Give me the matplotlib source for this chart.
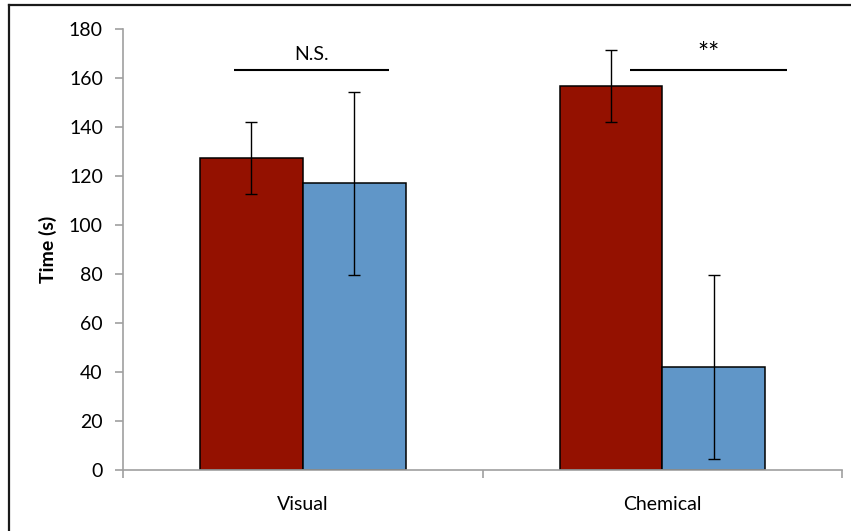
"""Grouped bar chart of response time for visual and chemical cues
"""
import numpy as np
import matplotlib
matplotlib.use("Agg")
import matplotlib.pyplot as plt
from matplotlib.lines import Line2D

# -------
# Data
# -------
categories = ["Visual", "Chemical"]
red_means = [127.3, 156.6]
red_errors = [14.6, 14.7]
blue_means = [116.9, 42.0]
blue_errors = [37.4, 37.4]

# significance bars: (left, right, height, label)
sig_left = [-0.19, 0.91]
sig_right = [0.24, 1.345]
sig_height = [163, 163]
sig_labels = ["N.S.", "**"]

y_ticks = np.arange(0, 181, 20)

plt.rcParams['font.family'] = ['Lato', 'DejaVu Sans']
font_size = 14

W, H = 851, 531
fig = plt.figure(figsize=(W / 100, H / 100), dpi=100)

# axes placed in pixel units
ax_left, ax_right, ax_top, ax_bottom = 123, 842.3, 28.7, 470
ax_w = ax_right - ax_left
ax = fig.add_axes([ax_left / W, (H - ax_bottom) / H,
                   ax_w / W, (ax_bottom - ax_top) / H])

x = np.arange(len(categories))
bar_width = 1 / 3.5

err_kw = dict(ecolor='black', elinewidth=1.0, capsize=4, capthick=1.0)
ax.bar(x - bar_width / 2, red_means, bar_width, yerr=red_errors,
       color='#941100', edgecolor='black', linewidth=1.1,
       error_kw=err_kw, zorder=2)
ax.bar(x + bar_width / 2, blue_means, bar_width, yerr=blue_errors,
       color='#6096c8', edgecolor='black', linewidth=1.1,
       error_kw=err_kw, zorder=2)

# significance lines with labels
label_offset = [4.3, 3.6]
label_size = [font_size, 19]
for i, label in enumerate(sig_labels):
    ax.plot([sig_left[i], sig_right[i]], [sig_height[i], sig_height[i]],
            color='black', lw=1.5, solid_capstyle='butt', zorder=3)
    ax.text((sig_left[i] + sig_right[i]) / 2, sig_height[i] + label_offset[i],
            label, ha='center', va='baseline', fontsize=label_size[i],
            color='black')

# -------
# Axis
# -------
ax.set_xlim(-0.5, 1.5)
ax.set_ylim(0, 180)
ax.set_yticks(y_ticks)
ax.set_yticklabels([str(v) for v in y_ticks], fontsize=font_size)

# category boundary ticks, labels in between
ax.set_xticks([-0.5, 0.5, 1.5])
ax.set_xticklabels([])
ax.set_xticks(x, minor=True)
ax.set_xticklabels(categories, minor=True, fontsize=font_size)
ax.tick_params(axis='x', which='minor', length=0, pad=18.5)
ax.tick_params(axis='x', which='major', length=6, width=1.2,
               color='#a0a0a0', direction='out')
ax.tick_params(axis='y', length=6, width=1.2, color='#a0a0a0',
               direction='out', pad=8.5)

for side in ['top', 'right']:
    ax.spines[side].set_visible(False)
for side in ['left', 'bottom']:
    ax.spines[side].set_color('#a0a0a0')
    ax.spines[side].set_linewidth(1.2)

ax.set_ylabel("Time (s)", fontsize=font_size, fontweight='bold')
ax.yaxis.set_label_coords((57 - ax_left) / ax_w, 0.5)

# outer frame along top and left edges
fig.add_artist(Line2D([9 / W, 1], [1 - 5 / H, 1 - 5 / H],
                      transform=fig.transFigure, color='#1a1a1a', lw=1.6))
fig.add_artist(Line2D([9 / W, 9 / W], [0, 1 - 5 / H],
                      transform=fig.transFigure, color='#1a1a1a', lw=1.6))

plt.savefig("out.png", dpi=100)
plt.close()
